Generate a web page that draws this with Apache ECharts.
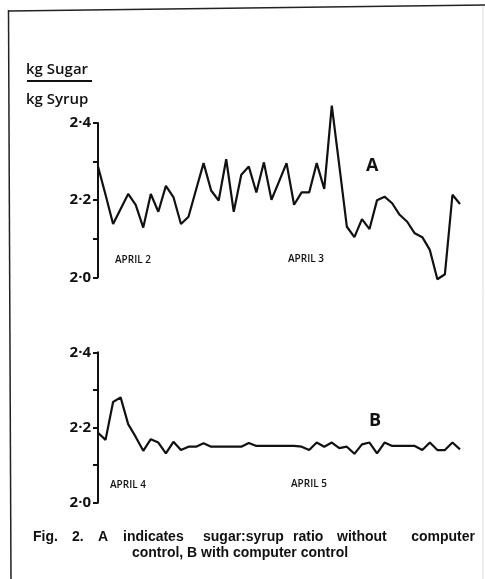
<!DOCTYPE html>
<html>
<head>
<meta charset="utf-8">
<script src="https://cdn.jsdelivr.net/npm/echarts@6/dist/echarts.min.js"></script>
<style>
html,body{margin:0;padding:0;background:#fff;}
#c{width:485px;height:579px;}
</style>
</head>
<body>
<div id="c"></div>
<script>
// Sample index (readings at equal time steps)
const categories = Array.from({length: 49}, (_, i) => String(i));

// A: without computer control (April 2 - April 3)
const seriesA = [2.287, 2.214, 2.138, 2.177, 2.216, 2.188, 2.129, 2.216, 2.170, 2.237,
  2.208, 2.138, 2.157, 2.227, 2.296, 2.225, 2.199, 2.306, 2.170, 2.266,
  2.287, 2.220, 2.298, 2.201, 2.248, 2.296, 2.188, 2.220, 2.220, 2.296,
  2.229, 2.445, 2.289, 2.131, 2.104, 2.151, 2.125, 2.200, 2.209, 2.192,
  2.162, 2.144, 2.114, 2.104, 2.071, 1.995, 2.008, 2.214, 2.190];

// B: with computer control (April 4 - April 5)
const seriesB = [2.186, 2.167, 2.268, 2.280, 2.209, 2.175, 2.138, 2.169, 2.160, 2.131,
  2.162, 2.140, 2.149, 2.149, 2.158, 2.149, 2.149, 2.149, 2.149, 2.149,
  2.159, 2.151, 2.151, 2.151, 2.151, 2.151, 2.151, 2.149, 2.140, 2.160,
  2.149, 2.160, 2.145, 2.149, 2.130, 2.155, 2.160, 2.131, 2.160, 2.151,
  2.151, 2.151, 2.151, 2.140, 2.160, 2.140, 2.140, 2.160, 2.142];

const yMin = 2.0, yMax = 2.4, yStep = 0.1;
const yLabelValues = [2.0, 2.2, 2.4];

const chart = echarts.init(document.getElementById('c'), null, {renderer: 'canvas'});

function yAxisCfg(gi) {
  return {
    type: 'value', gridIndex: gi, min: yMin, max: yMax, interval: yStep,
    axisLine: {show: true, lineStyle: {color: '#111', width: 2}},
    axisTick: {show: true, length: 5, lineStyle: {color: '#111', width: 2}},
    splitLine: {show: false},
    axisLabel: {
      margin: 7, color: '#111', fontFamily: 'Open Sans', fontWeight: 'bold', fontSize: 15,
      formatter: v => yLabelValues.some(t => Math.abs(t - v) < 1e-6) ? v.toFixed(1).replace('.', '·') : ''
    }
  };
}
function xAxisCfg(gi) {
  return {
    type: 'category', gridIndex: gi, data: categories, boundaryGap: false,
    axisLine: {show: false}, axisTick: {show: false}, axisLabel: {show: false}, splitLine: {show: false}
  };
}

const txt = (x, y, text, size, weight, family, align) => ({
  type: 'text', x: x, y: y,
  style: {text: text, fill: '#111', font: (weight || 'normal') + ' ' + size + 'px ' + (family || '"Open Sans"'),
          textAlign: align || 'left', textVerticalAlign: 'middle'}
});
const cap = '"Liberation Sans"';

chart.setOption({
  animation: false,
  grid: [
    {left: 98, top: 123, width: 362, height: 154.3},
    {left: 98, top: 352.3, width: 362, height: 150.4}
  ],
  xAxis: [xAxisCfg(0), xAxisCfg(1)],
  yAxis: [yAxisCfg(0), yAxisCfg(1)],
  series: [
    {type: 'line', xAxisIndex: 0, yAxisIndex: 0, data: seriesA, showSymbol: false, clip: false,
     lineStyle: {color: '#111', width: 2.2}, silent: true},
    {type: 'line', xAxisIndex: 1, yAxisIndex: 1, data: seriesB, showSymbol: false, clip: false,
     lineStyle: {color: '#111', width: 2.2}, silent: true}
  ],
  graphic: [
    {type: 'line', shape: {x1: 9, y1: 11, x2: 485, y2: 5}, style: {stroke: '#222', lineWidth: 1.5}},
    {type: 'line', shape: {x1: 8.5, y1: 10, x2: 11, y2: 579}, style: {stroke: '#222', lineWidth: 1.5}},
    {type: 'line', shape: {x1: 483, y1: 6, x2: 483, y2: 579}, style: {stroke: '#ddd', lineWidth: 1}},
    txt(26, 70, 'kg Sugar', 15, 600),
    {type: 'line', shape: {x1: 27, y1: 81, x2: 92, y2: 81}, style: {stroke: '#111', lineWidth: 2}},
    txt(26, 100, 'kg Syrup', 15, 600),
    txt(115, 260, 'APRIL 2', 10, 600),
    txt(288, 259, 'APRIL 3', 10, 600),
    txt(366, 166, 'A', 18, 'bold'),
    txt(110, 485, 'APRIL 4', 10, 600),
    txt(291, 484, 'APRIL 5', 10, 600),
    txt(369, 421, 'B', 18, 'bold'),
    txt(33, 537, 'Fig.', 14, 'bold', cap),
    txt(72, 537, '2.', 14, 'bold', cap),
    txt(98, 537, 'A', 14, 'bold', cap),
    txt(123, 537, 'indicates', 14, 'bold', cap),
    txt(203, 537, 'sugar:syrup', 14, 'bold', cap),
    txt(293, 537, 'ratio', 14, 'bold', cap),
    txt(337, 537, 'without', 14, 'bold', cap),
    txt(475, 537, 'computer', 14, 'bold', cap, 'right'),
    txt(240, 553, 'control, B with computer control', 14, 'bold', cap, 'center')
  ]
});
</script>
</body>
</html>
